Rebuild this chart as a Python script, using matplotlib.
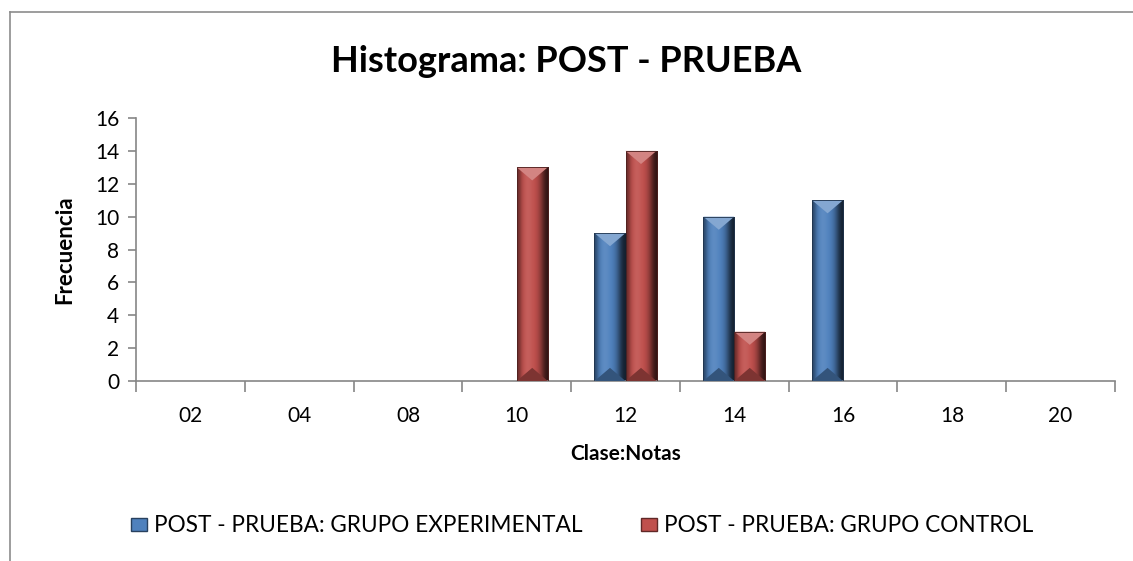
import matplotlib
matplotlib.use('Agg')
import matplotlib.pyplot as plt
import numpy as np
from matplotlib.patches import Polygon
from matplotlib.lines import Line2D
from matplotlib.colors import to_rgb

plt.rcParams['font.family'] = ['Lato', 'DejaVu Sans']

# data
clases = ['02', '04', '08', '10', '12', '14', '16', '18', '20']
experimental = [0, 0, 0, 0, 9, 10, 11, 0, 0]
control = [0, 0, 0, 13, 14, 3, 0, 0, 0]
series_names = ['POST - PRUEBA: GRUPO EXPERIMENTAL', 'POST - PRUEBA: GRUPO CONTROL']
series_colors = ['#4f81bd', '#c0504d']

W, H = 1133, 561
fig = plt.figure(figsize=(W / 100, H / 100), dpi=100)
ax = fig.add_axes([136 / W, 1 - 381 / H, (1115 - 136) / W, (381 - 118) / H])

x = np.arange(len(clases))
bw = 0.285
ylim = 16


def shade(c, f):
    c = np.array(to_rgb(c))
    if f >= 0:
        return tuple(c + (1 - c) * f)
    return tuple(c * (1 + f))


def bevel_bars(bars, color):
    # fake the office "bevel" look: horizontal gradient + light top / dark bottom wedge
    grad = np.array([shade(color, f) for f in
                     [-0.45, -0.1, 0.05, 0.1, 0.05, 0.0, -0.1, -0.3, -0.6, -0.75]])
    for b in bars:
        h = b.get_height()
        if h <= 0:
            b.set_visible(False)
            continue
        x0, w = b.get_x(), b.get_width()
        im = ax.imshow(grad[np.newaxis, :, :], extent=(x0, x0 + w, 0, h),
                       aspect='auto', interpolation='bicubic', zorder=2)
        im.set_clip_path(b)
        d = min(0.8, h / 2)
        ax.add_patch(Polygon([(x0, h), (x0 + w, h), (x0 + w / 2, h - d)],
                             closed=True, facecolor=shade(color, 0.3),
                             edgecolor='none', zorder=3))
        ax.add_patch(Polygon([(x0, h), (x0 + w / 2, h - d), (x0 + w * 0.15, h - d * 0.3)],
                             closed=True, facecolor=shade(color, 0.1),
                             edgecolor='none', zorder=3))
        ax.add_patch(Polygon([(x0, 0), (x0 + w, 0), (x0 + w / 2, d)],
                             closed=True, facecolor=shade(color, -0.35),
                             edgecolor='none', zorder=3))
        b.set_facecolor('none')
        b.set_edgecolor(shade(color, -0.6))
        b.set_linewidth(0.6)
        b.set_zorder(4)


b1 = ax.bar(x - bw / 2, experimental, bw, color=series_colors[0])
b2 = ax.bar(x + bw / 2, control, bw, color=series_colors[1])
bevel_bars(b1, series_colors[0])
bevel_bars(b2, series_colors[1])

ax.set_xlim(-0.5, len(clases) - 0.5)
ax.set_ylim(0, ylim)
ax.set_yticks(np.arange(0, 17, 2))
ax.set_xticks(np.arange(-0.5, len(clases), 1))
ax.set_xticklabels([])
ax.set_xticks(x, minor=True)
ax.set_xticklabels(clases, minor=True)
ax.tick_params(axis='x', which='minor', length=0, pad=18, labelsize=15)
ax.tick_params(axis='x', which='major', length=8, color='#868686', width=1.2)
ax.tick_params(axis='y', length=6, color='#868686', width=1.2, labelsize=15, pad=6)

for s in ['top', 'right']:
    ax.spines[s].set_visible(False)
for s in ['left', 'bottom']:
    ax.spines[s].set_color('#868686')
    ax.spines[s].set_linewidth(1.2)

ax.set_xlabel('Clase:Notas', fontsize=15, fontweight='bold', labelpad=13)
ax.set_ylabel('Frecuencia', fontsize=16, fontweight='bold', labelpad=14)
fig.text(0.5, 1 - 62 / H, 'Histograma: POST - PRUEBA', ha='center', va='center',
         fontsize=26, fontweight='bold')

handles = [Polygon([[0, 0]], closed=True, facecolor=c, edgecolor=shade(c, -0.5))
           for c in series_colors]
fig.legend(handles, series_names, loc='center', bbox_to_anchor=(0.514, 1 - 526 / H),
           ncol=2, frameon=False, fontsize=16.3, handlelength=0.7, handleheight=0.5,
           handletextpad=0.3, columnspacing=2.6)

# chart frame (cropped)
fig.add_artist(Line2D([10 / W, 10 / W], [0, 1 - 12 / H], transform=fig.transFigure,
                      color='#8c8c8c', lw=1.2))
fig.add_artist(Line2D([10 / W, 1], [1 - 12 / H, 1 - 12 / H], transform=fig.transFigure,
                      color='#8c8c8c', lw=1.2))

fig.savefig('out.png', dpi=100)
